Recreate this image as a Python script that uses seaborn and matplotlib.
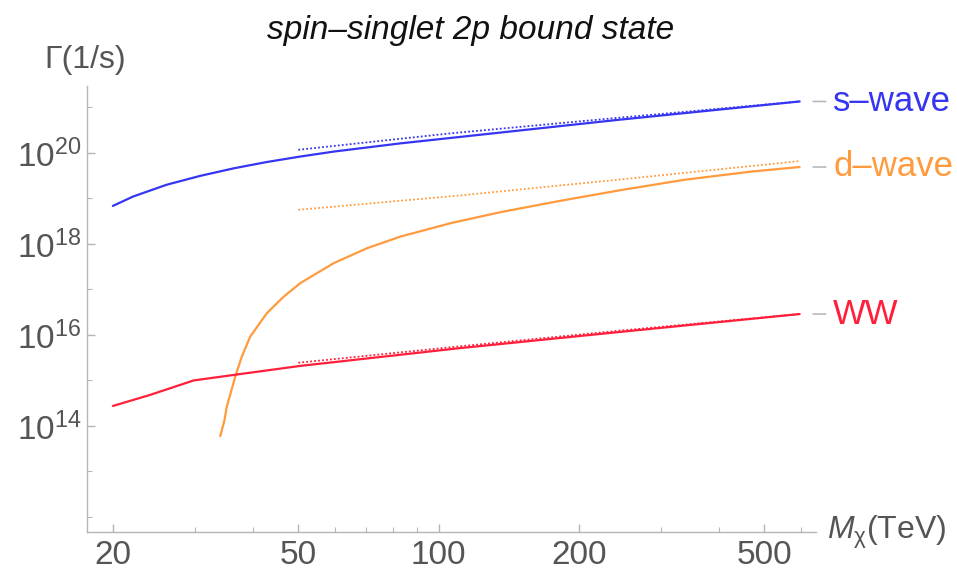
import matplotlib
matplotlib.use("Agg")
import matplotlib.pyplot as plt
import seaborn as sns
import pandas as pd

# ---- data (M in TeV, Gamma in 1/s) ----
s_wave_M = [20, 22.1, 26.1, 30.8, 36.3, 42.8, 50.5, 59.6, 82.8, 97.9, 242, 595]
s_wave_G = [6.84e18, 1.10e19, 2.0e19, 3.13e19, 4.57e19, 6.31e19, 8.32e19, 1.07e20,
            1.62e20, 1.95e20, 5.31e20, 1.35e21]
s_approx_M = [50, 106, 242, 595]
s_approx_G = [1.17e20, 2.69e20, 5.89e20, 1.35e21]

d_wave_M = [34.0, 34.7, 35.1, 36.6, 37.8, 39.4, 42.8, 46.5, 50.5, 59.6, 70.2, 82.8,
            106, 136, 183, 242, 337, 469, 595]
d_wave_G = [6.0e13, 1.32e14, 2.63e14, 1.20e15, 3.31e15, 9.12e15, 3.02e16, 6.92e16,
            1.38e17, 3.80e17, 8.04e17, 1.45e18, 2.85e18, 5.01e18, 8.91e18, 1.48e19,
            2.57e19, 3.89e19, 4.90e19]
d_approx_M = [50, 110, 242, 595]
d_approx_G = [5.62e18, 1.15e19, 2.57e19, 6.61e19]

ww_M = [20, 24, 29.8, 36.3, 50.5, 111, 242, 595]
ww_G = [2.75e14, 4.79e14, 1.0e15, 1.32e15, 2.09e15, 5.13e15, 1.15e16, 2.88e16]
ww_approx_M = [50, 111, 242, 595]
ww_approx_G = [2.45e15, 5.62e15, 1.23e16, 2.88e16]

labels = ["s\u2013wave", "d\u2013wave", "WW"]
colors = ["#3535f2", "#ff9a3d", "#ff1f3a"]
y_ticks = [1e14, 1e16, 1e18, 1e20]
y_ticklabels = ["$10^{14}$", "$10^{16}$", "$10^{18}$", "$10^{20}$"]
x_ticks = [20, 50, 100, 200, 500]
x_ticklabels = ["20", "50", "100", "200", "500"]
x_minor = [30, 40, 60, 70, 80, 90, 300, 400, 600]
y_minor = [1e12, 1e13, 1e15, 1e17, 1e19, 1e21]

sns.set_theme(style="white")
plt.rcParams["font.family"] = ["Liberation Sans", "DejaVu Sans"]
plt.rcParams["mathtext.fontset"] = "custom"
plt.rcParams["mathtext.rm"] = "Liberation Sans"
plt.rcParams["mathtext.it"] = "Liberation Sans:italic"
plt.rcParams["mathtext.default"] = "regular"

fig = plt.figure(figsize=(9.57, 5.74), dpi=100)
ax = fig.add_axes([87 / 957, 1 - 532 / 574, (816 - 87) / 957, (532 - 86) / 574])

solid = [(s_wave_M, s_wave_G), (d_wave_M, d_wave_G), (ww_M, ww_G)]
approx = [(s_approx_M, s_approx_G), (d_approx_M, d_approx_G), (ww_approx_M, ww_approx_G)]

for (m, g), c in zip(approx, colors):
    df = pd.DataFrame({"M": m, "G": g})
    sns.lineplot(data=df, x="M", y="G", ax=ax, color=c, lw=1.3,
                 linestyle=(0, (1, 1.2)), estimator=None)
for (m, g), c in zip(solid, colors):
    df = pd.DataFrame({"M": m, "G": g})
    sns.lineplot(data=df, x="M", y="G", ax=ax, color=c, lw=1.6, estimator=None)

ax.set_xscale("log")
ax.set_yscale("log")
ax.set_xlim(17.6, 645)
ax.set_ylim(10 ** 11.67, 10 ** 21.47)

ax.set_xticks(x_ticks)
ax.set_xticklabels(x_ticklabels)
ax.set_xticks(x_minor, minor=True)
ax.set_xticklabels([], minor=True)
ax.set_yticks(y_ticks)
ax.set_yticklabels(y_ticklabels)
ax.set_yticks(y_minor, minor=True)
ax.set_yticklabels([], minor=True)

ax.set_xlabel("")
ax.set_ylabel("")
for side in ["top", "right"]:
    ax.spines[side].set_visible(False)
for side in ["left", "bottom"]:
    ax.spines[side].set_color("#b5b5b5")
    ax.spines[side].set_linewidth(1.0)

ax.tick_params(which="both", direction="in", color="#b5b5b5", labelcolor="#555555",
               labelsize=24, bottom=True, left=True)
ax.tick_params(which="major", length=6, width=1.0)
ax.tick_params(which="minor", length=3.5, width=0.8)
ax.tick_params(axis="x", which="major", pad=6)
ax.tick_params(axis="y", which="major", pad=4)

# right-side curve labels
for (m, g), lab, c in zip(solid, labels, colors):
    ax.annotate(lab, xy=(0.996, g[-1]), xycoords=("axes fraction", "data"),
                xytext=(1.0235, g[-1]), textcoords=("axes fraction", "data"),
                ha="left", va="center", color=c, fontsize=25,
                arrowprops=dict(arrowstyle="-", color="#b8b8b8", lw=1.2,
                                shrinkA=3, shrinkB=0),
                annotation_clip=False)

ax.text(1.015, 0.0, r"$\mathit{M}_{\chi}$(TeV)", transform=ax.transAxes, ha="left",
        va="center", fontsize=23, color="#555555")
ax.text(-0.058, 1.058, "\u0393(1/s)", transform=ax.transAxes, ha="left",
        va="center", fontsize=23, color="#555555")
fig.text(471 / 957, 1 - 30 / 574, "spin\u2013singlet 2p bound state", ha="center",
         va="center", fontsize=24, style="italic", color="#111111")

fig.savefig("out.png", dpi=100)
